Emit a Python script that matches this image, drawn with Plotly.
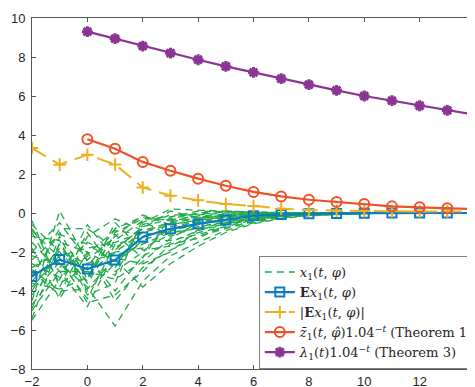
import plotly.graph_objects as go

# ---------------- data ----------------
t_all = list(range(-2, 15))          # -2 .. 14
t_pos = list(range(0, 15))           # 0 .. 14

x1_paths = [
    [-0.6, -2.0, -3.5, -1.0, -0.3, -0.2, 0.10, 0.05, 0.02, 0.00, 0.00, 0.00, 0.00, 0.00, 0.00, 0.00, 0.00],
    [-5.4, -1.5, -2.0, -4.5, -2.8, -1.9, -1.20, -0.80, -0.40, -0.20, -0.10, -0.05, -0.02, -0.01, 0.00, 0.00, 0.00],
    [-3.0, -4.2, -1.2, -0.3, -0.9, -0.5, -0.30, -0.10, -0.05, -0.02, -0.01, 0.00, 0.00, 0.00, 0.00, 0.00, 0.00],
    [-1.5, -3.0, -4.8, -2.0, -1.8, -1.1, -0.70, -0.45, -0.25, -0.12, -0.06, -0.03, -0.01, 0.00, 0.00, 0.00, 0.00],
    [-4.5, 0.1, -2.5, -3.2, -0.5, 0.2, 0.15, 0.08, 0.04, 0.02, 0.01, 0.00, 0.00, 0.00, 0.00, 0.00, 0.00],
    [-2.2, -2.6, -3.8, -5.8, -3.5, -2.2, -1.50, -0.90, -0.50, -0.25, -0.12, -0.06, -0.03, -0.01, 0.00, 0.00, 0.00],
    [-3.8, -2.2, -1.8, -1.5, -1.0, -0.6, -0.40, -0.20, -0.10, -0.05, -0.02, -0.01, 0.00, 0.00, 0.00, 0.00, 0.00],
    [-1.0, -3.6, -2.8, -0.8, -0.2, -0.4, -0.20, -0.15, -0.05, -0.02, -0.01, 0.00, 0.00, 0.00, 0.00, 0.00, 0.00],
    [-4.9, -1.2, -4.0, -2.6, -1.4, -0.9, -0.60, -0.30, -0.15, -0.08, -0.04, -0.02, -0.01, 0.00, 0.00, 0.00, 0.00],
    [-2.6, -3.3, -2.2, -4.0, -2.2, -1.5, -0.90, -0.60, -0.30, -0.15, -0.07, -0.03, -0.01, 0.00, 0.00, 0.00, 0.00],
    [-3.5, -1.8, -3.2, -1.9, -0.7, -0.3, 0.00, 0.10, 0.05, 0.02, 0.01, 0.00, 0.00, 0.00, 0.00, 0.00, 0.00],
    [-0.8, -2.8, -1.5, -2.2, -1.6, -1.0, -0.80, -0.50, -0.25, -0.12, -0.06, -0.03, -0.01, 0.00, 0.00, 0.00, 0.00],
    [-5.0, -3.0, -3.0, -3.4, -2.5, -1.3, -0.50, -0.40, -0.20, -0.10, -0.05, -0.02, -0.01, 0.00, 0.00, 0.00, 0.00],
    [-2.0, -0.5, -2.4, -1.2, -0.1, -0.6, -0.35, -0.20, -0.10, -0.05, -0.02, -0.01, 0.00, 0.00, 0.00, 0.00, 0.00],
    [-4.2, -2.5, -4.4, -1.6, -1.2, -0.8, -0.55, -0.35, -0.15, -0.07, -0.03, -0.01, 0.00, 0.00, 0.00, 0.00, 0.00],
    [-1.8, -4.4, -2.0, -2.8, -0.6, -0.1, -0.10, 0.00, 0.00, 0.00, 0.00, 0.00, 0.00, 0.00, 0.00, 0.00, 0.00],
    [-3.2, -1.0, -3.4, -0.5, -1.9, -1.7, -1.00, -0.70, -0.35, -0.18, -0.09, -0.04, -0.02, -0.01, 0.00, 0.00, 0.00],
    [-2.8, -2.0, -2.6, -2.0, -1.0, -0.45, -0.25, -0.15, -0.08, -0.04, -0.02, -0.01, 0.00, 0.00, 0.00, 0.00, 0.00],
    [-0.4, -3.8, -1.0, -3.0, -2.0, -0.7, -0.45, -0.30, -0.20, -0.10, -0.05, -0.02, -0.01, 0.00, 0.00, 0.00, 0.00],
    [-4.0, -1.6, -3.6, -1.4, -0.4, -1.2, -0.70, -0.50, -0.30, -0.15, -0.07, -0.03, -0.01, 0.00, 0.00, 0.00, 0.00],
    [-5.5, -3.4, -0.6, -2.4, -3.8, -2.6, -1.70, -1.00, -0.55, -0.28, -0.14, -0.07, -0.03, -0.01, 0.00, 0.00, 0.00],
    [-1.2, -1.4, -4.2, -3.6, -0.3, -0.35, -0.15, -0.05, 0.02, 0.01, 0.00, 0.00, 0.00, 0.00, 0.00, 0.00, 0.00],
    [-3.6, -3.9, -3.3, -1.1, -2.3, -0.2, -0.05, 0.05, 0.03, 0.01, 0.00, 0.00, 0.00, 0.00, 0.00, 0.00, 0.00],
    [-2.4, -1.1, -1.6, -2.5, -1.5, -1.4, -1.10, -0.75, -0.45, -0.22, -0.11, -0.05, -0.02, -0.01, 0.00, 0.00, 0.00],
    [-4.7, -2.9, -2.1, -0.9, -1.1, -0.95, -0.35, -0.25, -0.12, -0.06, -0.03, -0.01, 0.00, 0.00, 0.00, 0.00, 0.00],
    [-0.9, -2.3, -4.6, -4.2, -3.0, -1.6, -1.30, -0.60, -0.35, -0.17, -0.08, -0.04, -0.02, -0.01, 0.00, 0.00, 0.00],
    [-3.3, -0.8, -0.8, -1.8, -0.8, 0.1, -0.25, -0.10, -0.04, -0.02, -0.01, 0.00, 0.00, 0.00, 0.00, 0.00, 0.00],
    [-2.9, -4.0, -3.9, -2.3, -2.6, -2.0, -0.85, -0.55, -0.28, -0.14, -0.07, -0.03, -0.01, 0.00, 0.00, 0.00, 0.00],
]

Ex1 = [-3.25, -2.39, -2.87, -2.41, -1.23, -0.81, -0.56, -0.36, -0.14, -0.08, -0.04,
       -0.02, -0.01, 0.00, 0.00, 0.00, 0.00]
absEx1 = [3.33, 2.48, 2.99, 2.49, 1.31, 0.89, 0.65, 0.46, 0.36, 0.22, 0.15,
          0.12, 0.10, 0.09, 0.08, 0.08, 0.07]
z_bar = [3.78, 3.30, 2.62, 2.17, 1.76, 1.40, 1.08, 0.85, 0.68, 0.56, 0.46,
         0.34, 0.29, 0.24, 0.20]
lam = [9.30, 8.94, 8.56, 8.20, 7.86, 7.52, 7.21, 6.89, 6.58, 6.29, 6.00,
       5.76, 5.50, 5.26, 5.04]

x_ticks = [-2, 0, 2, 4, 6, 8, 10, 12, 14]
y_ticks = [-8, -6, -4, -2, 0, 2, 4, 6, 8, 10]

# ---------------- styles ----------------
GREEN = "#22AA4A"
BLUE = "#0C7BC4"
ORANGE = "#EDB120"
RED = "#EE5228"
PURPLE = "#8A3594"

fig = go.Figure()

for i, path in enumerate(x1_paths):
    fig.add_trace(go.Scatter(
        x=t_all, y=path, mode="lines",
        line=dict(color=GREEN, width=1.3, dash="7px,5px"),
        name="<i>x</i><sub>1</sub>(<i>t</i>, <i>φ</i>)",
        legendgroup="x1", showlegend=(i == 0),
    ))

fig.add_trace(go.Scatter(
    x=t_all, y=Ex1, mode="lines+markers",
    line=dict(color=BLUE, width=2.2),
    marker=dict(symbol="square-open", size=9, color=BLUE, line=dict(width=2)),
    name="<b>E</b><i>x</i><sub>1</sub>(<i>t</i>, <i>φ</i>)",
))

fig.add_trace(go.Scatter(
    x=t_all, y=absEx1, mode="lines+markers",
    line=dict(color=ORANGE, width=2, dash="16px,8px"),
    marker=dict(symbol="cross-thin-open", size=9, color=ORANGE, line=dict(width=2, color=ORANGE)),
    name="|<b>E</b><i>x</i><sub>1</sub>(<i>t</i>, <i>φ</i>)|",
))

fig.add_trace(go.Scatter(
    x=t_pos, y=z_bar, mode="lines+markers",
    line=dict(color=RED, width=2.2),
    marker=dict(symbol="circle-open", size=10, color=RED, line=dict(width=2)),
    name="<i>z̄</i><sub>1</sub>(<i>t</i>, <i>φ̂</i>)1.04<sup>−<i>t</i></sup> (Theorem 1)",
))

fig.add_trace(go.Scatter(
    x=t_pos, y=lam, mode="lines+markers",
    line=dict(color=PURPLE, width=2.2),
    marker=dict(symbol="asterisk-open", size=9, color=PURPLE, line=dict(width=3, color=PURPLE)),
    name="<i>λ</i><sub>1</sub>(<i>t</i>)1.04<sup>−<i>t</i></sup> (Theorem 3)",
))

axis_common = dict(
    showgrid=False, zeroline=False, automargin=False,
    showline=True, linecolor="#555555", linewidth=1,
    mirror="ticks", ticks="inside", ticklen=4, tickcolor="#555555",
    tickfont=dict(family="Liberation Sans, Arial, sans-serif", size=13, color="#262626"),
)

# page body has an 8px default margin, so the figure is sized to fit the window
fig.update_layout(
    width=467, height=379,
    margin=dict(l=24, r=0, t=10, b=18, autoexpand=False),
    paper_bgcolor="white", plot_bgcolor="white",
    xaxis=dict(range=[-2, 14], tickvals=x_ticks, **axis_common),
    yaxis=dict(range=[-8, 10], tickvals=y_ticks, ticklabelstandoff=3, **axis_common),
    legend=dict(
        x=0.512, y=0.0, xanchor="left", yanchor="bottom",
        bgcolor="white", bordercolor="#7f7f7f", borderwidth=1,
        font=dict(family="DejaVu Serif, Liberation Serif, serif", size=13.1, color="#262626"),
        itemwidth=30, tracegroupgap=0,
    ),
)

fig.write_html("out.html")
